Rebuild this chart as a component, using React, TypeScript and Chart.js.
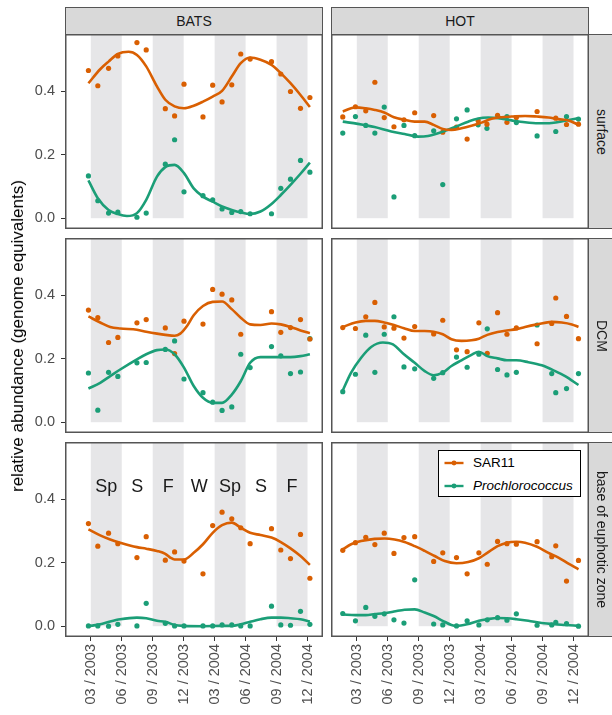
import React, { useEffect, useRef } from 'react';
import { Chart, registerables } from 'chart.js';

Chart.register(...registerables);

const FONT = "'Liberation Sans', Arial, Helvetica, sans-serif";
const ORANGE = '#D95F02';
const GREEN = '#1B9E77';
const BAND_COLOR = '#E6E6E8';
const STRIP_FILL = '#D9D9D9';
const FRAME = '#555555';

// ---- axes / annotations (x = months since Jan 2003; 2 = 03/2003) ----
const stations = ['BATS', 'HOT'];
const depths = ['surface', 'DCM', 'base of euphotic zone'];
const seriesNames = ['SAR11', 'Prochlorococcus'];
const xTickMonths = [2, 5, 8, 11, 14, 17, 20, 23];
const xTickLabels = ['03 / 2003', '06 / 2003', '09 / 2003', '12 / 2003', '03 / 2004', '06 / 2004', '09 / 2004', '12 / 2004'];
const yTickValues = [0, 0.2, 0.4];
const bandStart = [2, 8, 14, 20];
const bandEnd = [5, 11, 17, 23];
const seasonLabels = ['Sp', 'S', 'F', 'W', 'Sp', 'S', 'F'];
const seasonMonths = [3.5, 6.5, 9.5, 12.5, 15.5, 18.5, 21.5];
const SEASON_Y = 0.423;
const X_MIN = -0.5;
const X_MAX = 24.5;
const Y_MIN = -0.034;
const Y_MAX = 0.58;

// ---- sampling dates ----
const batsDates = [1.77, 2.68, 3.72, 4.62, 6.47, 7.37, 9.22, 10.12, 11.03, 12.87, 13.81, 14.72, 15.66, 16.53, 17.44, 19.51, 20.41, 21.35, 22.32, 23.23];
const batsDcmSarDates = [1.77, 2.68, 3.72, 4.62, 6.47, 7.37, 9.22, 10.12, 11.03, 12.87, 13.81, 14.72, 15.66, 16.53, 19.51, 20.41, 21.35, 22.32, 23.23];
const hotSurfSarDates = [0.64, 1.87, 2.87, 3.75, 4.66, 5.6, 6.57, 7.61, 9.45, 10.33, 11.66, 12.69, 13.76, 14.61, 15.64, 16.55, 17.46, 19.47, 21.28, 22.32, 23.48];
const hotSurfProDates = [0.64, 1.87, 2.87, 3.75, 4.66, 5.6, 6.57, 7.61, 9.45, 10.33, 11.66, 12.69, 13.76, 14.61, 16.55, 17.46, 19.47, 21.28, 22.32, 23.48];
const hotDates = [0.64, 1.87, 2.87, 3.75, 4.66, 5.6, 6.57, 7.61, 9.45, 10.33, 11.66, 12.69, 13.83, 14.64, 15.64, 16.55, 17.46, 19.47, 20.89, 21.28, 22.32, 23.48];

// ---- BATS surface ----
const batsSurfSar = [0.465, 0.417, 0.472, 0.511, 0.553, 0.53, 0.345, 0.322, 0.422, 0.319, 0.419, 0.366, 0.42, 0.517, 0.501, 0.493, 0.454, 0.399, 0.346, 0.38];
const batsSurfPro = [0.133, 0.055, 0.016, 0.019, 0.003, 0.016, 0.17, 0.247, 0.083, 0.071, 0.058, 0.029, 0.018, 0.021, 0.014, 0.014, 0.094, 0.123, 0.182, 0.145];
const batsSurfSarFitX = [1.77, 2.91, 3.72, 4.62, 5.66, 6.47, 7.37, 8.41, 9.22, 10.12, 11.03, 11.97, 12.87, 13.81, 14.72, 15.66, 16.53, 17.44, 18.44, 19.51, 20.41, 21.35, 22.32, 23.23];
const batsSurfSarFitY = [0.425, 0.469, 0.493, 0.517, 0.524, 0.514, 0.478, 0.415, 0.373, 0.352, 0.346, 0.354, 0.367, 0.383, 0.401, 0.446, 0.488, 0.506, 0.499, 0.483, 0.457, 0.425, 0.388, 0.35];
const batsSurfProFitX = [1.77, 2.68, 3.72, 4.62, 5.5, 6.47, 7.37, 8.41, 9.22, 10.12, 11.03, 11.97, 12.87, 13.81, 14.72, 15.66, 16.53, 17.44, 18.44, 19.51, 20.41, 21.35, 22.32, 23.23];
const batsSurfProFitY = [0.119, 0.063, 0.026, 0.013, 0.007, 0.016, 0.058, 0.131, 0.161, 0.168, 0.142, 0.094, 0.068, 0.052, 0.037, 0.026, 0.018, 0.013, 0.021, 0.045, 0.073, 0.105, 0.14, 0.175];

// ---- HOT surface ----
const hotSurfSar = [0.319, 0.351, 0.338, 0.428, 0.317, 0.288, 0.31, 0.332, 0.323, 0.271, 0.287, 0.249, 0.307, 0.296, 0.324, 0.302, 0.317, 0.336, 0.315, 0.295, 0.296];
const hotSurfPro = [0.268, 0.32, 0.292, 0.268, 0.35, 0.067, 0.292, 0.26, 0.275, 0.106, 0.313, 0.341, 0.294, 0.283, 0.32, 0.301, 0.259, 0.273, 0.32, 0.312];
const hotSurfSarFitX = [0.64, 1.87, 2.87, 3.75, 4.66, 5.6, 6.57, 7.61, 8.58, 9.45, 10.33, 11.17, 12.14, 13.11, 14.09, 15.06, 16.03, 17.0, 18.3, 19.47, 20.57, 21.54, 22.51, 23.48];
const hotSurfSarFitY = [0.336, 0.349, 0.346, 0.341, 0.333, 0.318, 0.31, 0.304, 0.304, 0.294, 0.281, 0.278, 0.283, 0.291, 0.301, 0.313, 0.318, 0.32, 0.322, 0.32, 0.317, 0.312, 0.308, 0.294];
const hotSurfProFitX = [0.64, 2.1, 3.72, 5.34, 6.63, 7.93, 8.9, 10.2, 11.66, 12.79, 13.76, 14.73, 15.71, 17.0, 18.3, 19.6, 20.89, 22.19, 23.48];
const hotSurfProFitY = [0.304, 0.297, 0.287, 0.273, 0.265, 0.257, 0.259, 0.271, 0.289, 0.304, 0.314, 0.317, 0.315, 0.308, 0.302, 0.299, 0.3, 0.307, 0.315];

// ---- BATS DCM ----
const batsDcmSar = [0.353, 0.329, 0.251, 0.267, 0.313, 0.323, 0.297, 0.216, 0.318, 0.309, 0.418, 0.403, 0.385, 0.277, 0.348, 0.283, 0.298, 0.323, 0.262];
const batsDcmPro = [0.155, 0.038, 0.157, 0.144, 0.187, 0.188, 0.229, 0.256, 0.136, 0.093, 0.063, 0.037, 0.048, 0.214, 0.172, 0.238, 0.209, 0.153, 0.158, 0.263];
const batsDcmSarFitX = [1.77, 2.91, 3.88, 4.85, 6.47, 7.37, 8.41, 9.22, 10.12, 10.67, 11.32, 11.97, 12.87, 13.81, 14.72, 15.66, 16.53, 17.44, 18.44, 19.51, 20.41, 21.35, 22.32, 23.23];
const batsDcmSarFitY = [0.333, 0.314, 0.3, 0.295, 0.291, 0.285, 0.279, 0.275, 0.272, 0.279, 0.303, 0.337, 0.366, 0.379, 0.38, 0.356, 0.329, 0.308, 0.306, 0.311, 0.308, 0.3, 0.289, 0.28];
const batsDcmProFitX = [1.77, 2.91, 3.88, 4.85, 6.47, 7.37, 8.41, 9.22, 10.12, 11.03, 11.97, 12.87, 13.81, 14.72, 15.66, 16.53, 17.44, 18.44, 19.51, 20.41, 21.35, 22.32, 23.23];
const batsDcmProFitY = [0.106, 0.124, 0.145, 0.166, 0.198, 0.214, 0.227, 0.229, 0.214, 0.172, 0.114, 0.077, 0.061, 0.061, 0.087, 0.129, 0.187, 0.205, 0.205, 0.205, 0.205, 0.208, 0.214];

// ---- HOT DCM ----
const hotDcmSar = [0.298, 0.295, 0.332, 0.377, 0.3, 0.296, 0.265, 0.301, 0.278, 0.321, 0.228, 0.222, 0.313, 0.217, 0.345, 0.277, 0.297, 0.247, 0.311, 0.391, 0.333, 0.263];
const hotDcmPro = [0.096, 0.151, 0.274, 0.157, 0.277, 0.332, 0.174, 0.168, 0.138, 0.156, 0.205, 0.173, 0.214, 0.294, 0.166, 0.149, 0.157, 0.306, 0.153, 0.093, 0.106, 0.153];
const hotDcmSarFitX = [0.64, 1.87, 2.87, 3.75, 4.66, 5.6, 6.57, 7.61, 8.58, 9.45, 10.33, 11.17, 12.14, 13.11, 13.83, 14.64, 15.64, 16.55, 17.46, 18.3, 19.47, 20.89, 21.86, 22.84, 23.48];
const hotDcmSarFitY = [0.3, 0.314, 0.319, 0.319, 0.314, 0.306, 0.296, 0.287, 0.287, 0.285, 0.277, 0.261, 0.256, 0.258, 0.263, 0.275, 0.284, 0.289, 0.293, 0.3, 0.308, 0.316, 0.314, 0.308, 0.3];
const hotDcmProFitX = [0.64, 1.45, 2.42, 3.39, 4.53, 5.5, 6.57, 7.61, 8.58, 9.45, 10.33, 11.17, 12.14, 13.11, 13.83, 14.64, 15.64, 16.55, 17.46, 18.62, 19.92, 21.22, 22.19, 23.48];
const hotDcmProFitY = [0.1, 0.156, 0.203, 0.237, 0.251, 0.245, 0.214, 0.187, 0.161, 0.148, 0.156, 0.177, 0.195, 0.212, 0.222, 0.208, 0.201, 0.195, 0.195, 0.189, 0.179, 0.161, 0.145, 0.117];

// ---- BATS base of euphotic zone ----
const batsBaseSar = [0.323, 0.252, 0.293, 0.26, 0.216, 0.282, 0.208, 0.234, 0.205, 0.165, 0.317, 0.359, 0.338, 0.31, 0.26, 0.307, 0.24, 0.213, 0.289, 0.151];
const batsBasePro = [0.001, 0.001, 0.0, 0.006, 0.001, 0.072, 0.009, 0.001, 0.001, 0.001, 0.001, 0.004, 0.004, 0.001, 0.001, 0.063, 0.004, 0.003, 0.047, 0.006];
const batsBaseSarFitX = [1.77, 2.91, 3.88, 4.85, 6.47, 7.37, 8.41, 9.22, 9.7, 10.12, 11.03, 11.97, 12.87, 13.81, 14.72, 15.66, 16.53, 17.44, 18.44, 19.51, 20.41, 21.35, 22.32, 23.23];
const batsBaseSarFitY = [0.305, 0.286, 0.273, 0.263, 0.249, 0.244, 0.237, 0.228, 0.216, 0.21, 0.21, 0.231, 0.258, 0.294, 0.318, 0.326, 0.31, 0.294, 0.287, 0.279, 0.265, 0.245, 0.221, 0.193];
const batsBaseProFitX = [1.77, 2.91, 3.88, 4.85, 6.47, 7.37, 8.41, 9.22, 10.12, 11.03, 12.87, 14.72, 15.66, 16.53, 17.44, 18.44, 19.51, 20.41, 21.35, 22.32, 23.23];
const batsBaseProFitY = [0.0, 0.006, 0.015, 0.022, 0.027, 0.025, 0.017, 0.014, 0.004, 0.001, 0.0, 0.001, 0.001, 0.006, 0.014, 0.022, 0.027, 0.027, 0.025, 0.022, 0.015];

// ---- HOT base of euphotic zone ----
const hotBaseSar = [0.239, 0.263, 0.28, 0.257, 0.293, 0.229, 0.279, 0.282, 0.204, 0.231, 0.216, 0.165, 0.231, 0.195, 0.267, 0.26, 0.258, 0.266, 0.219, 0.253, 0.142, 0.207];
const hotBasePro = [0.04, 0.017, 0.059, 0.031, 0.039, 0.02, 0.01, 0.146, 0.007, 0.004, 0.001, 0.017, 0.004, 0.02, 0.027, 0.019, 0.039, 0.003, 0.004, 0.012, 0.008, 0.0];
const hotBaseSarFitX = [0.64, 1.45, 2.42, 3.72, 4.69, 5.66, 6.63, 7.61, 8.58, 9.55, 10.52, 11.66, 12.79, 13.83, 14.64, 15.64, 16.55, 17.46, 18.3, 19.47, 20.57, 21.54, 22.51, 23.48];
const hotBaseSarFitY = [0.242, 0.258, 0.268, 0.275, 0.276, 0.273, 0.265, 0.252, 0.237, 0.221, 0.205, 0.198, 0.202, 0.214, 0.231, 0.252, 0.263, 0.266, 0.263, 0.25, 0.231, 0.216, 0.197, 0.179];
const hotBaseProFitX = [0.64, 1.87, 2.87, 3.75, 4.66, 5.6, 6.63, 7.61, 8.58, 9.45, 10.33, 11.17, 11.66, 12.69, 13.83, 14.64, 15.64, 16.55, 17.46, 18.62, 19.92, 21.22, 22.19, 23.48];
const hotBaseProFitY = [0.037, 0.035, 0.035, 0.038, 0.041, 0.046, 0.052, 0.053, 0.043, 0.032, 0.017, 0.004, 0.001, 0.006, 0.017, 0.022, 0.026, 0.025, 0.022, 0.017, 0.01, 0.006, 0.004, 0.001];

type PanelData = {
  col: number; row: number;
  sarX: number[]; sarY: number[]; proX: number[]; proY: number[];
  sarFitX: number[]; sarFitY: number[]; proFitX: number[]; proFitY: number[];
};

const panels: PanelData[] = [
  { col: 0, row: 0, sarX: batsDates, sarY: batsSurfSar, proX: batsDates, proY: batsSurfPro, sarFitX: batsSurfSarFitX, sarFitY: batsSurfSarFitY, proFitX: batsSurfProFitX, proFitY: batsSurfProFitY },
  { col: 1, row: 0, sarX: hotSurfSarDates, sarY: hotSurfSar, proX: hotSurfProDates, proY: hotSurfPro, sarFitX: hotSurfSarFitX, sarFitY: hotSurfSarFitY, proFitX: hotSurfProFitX, proFitY: hotSurfProFitY },
  { col: 0, row: 1, sarX: batsDcmSarDates, sarY: batsDcmSar, proX: batsDates, proY: batsDcmPro, sarFitX: batsDcmSarFitX, sarFitY: batsDcmSarFitY, proFitX: batsDcmProFitX, proFitY: batsDcmProFitY },
  { col: 1, row: 1, sarX: hotDates, sarY: hotDcmSar, proX: hotDates, proY: hotDcmPro, sarFitX: hotDcmSarFitX, sarFitY: hotDcmSarFitY, proFitX: hotDcmProFitX, proFitY: hotDcmProFitY },
  { col: 0, row: 2, sarX: batsDates, sarY: batsBaseSar, proX: batsDates, proY: batsBasePro, sarFitX: batsBaseSarFitX, sarFitY: batsBaseSarFitY, proFitX: batsBaseProFitX, proFitY: batsBaseProFitY },
  { col: 1, row: 2, sarX: hotDates, sarY: hotBaseSar, proX: hotDates, proY: hotBasePro, sarFitX: hotBaseSarFitX, sarFitY: hotBaseSarFitY, proFitX: hotBaseProFitX, proFitY: hotBaseProFitY },
];

// ---- layout ----
const PANEL_LEFT = [65, 331];
const PANEL_W = 258;
const PANEL_TOP = [34, 238, 442];
const PANEL_H = 195;
const Y_AXIS_W = 40;
const X_AXIS_H = 78;
const STRIP = 27;
const TICK_FONT = 14.5;

const zip = (xs: number[], ys: number[]) => xs.map((x, i) => ({ x, y: ys[i] }));

function makeDeco(withSeasons: boolean) {
  return {
    id: 'panelDeco',
    beforeDatasetsDraw(chart: any) {
      const { ctx, chartArea: a, scales } = chart;
      const x = scales.x, y = scales.y;
      ctx.save();
      ctx.fillStyle = BAND_COLOR;
      const y0 = y.getPixelForValue(0);
      for (let i = 0; i < bandStart.length; i++) {
        const x1 = x.getPixelForValue(bandStart[i]);
        const x2 = x.getPixelForValue(bandEnd[i]);
        ctx.fillRect(x1, a.top, x2 - x1, y0 - a.top);
      }
      if (withSeasons) {
        ctx.fillStyle = '#1a1a1a';
        ctx.font = `18px ${FONT}`;
        ctx.textAlign = 'center';
        ctx.textBaseline = 'alphabetic';
        const sy = y.getPixelForValue(SEASON_Y);
        seasonLabels.forEach((s, i) => ctx.fillText(s, x.getPixelForValue(seasonMonths[i]), sy));
      }
      ctx.restore();
    },
    afterDraw(chart: any) {
      const { ctx, chartArea: a } = chart;
      ctx.save();
      ctx.strokeStyle = FRAME;
      ctx.lineWidth = 1.5;
      ctx.strokeRect(a.left + 0.75, a.top + 0.75, a.right - a.left - 1.5, a.bottom - a.top - 1.5);
      ctx.restore();
    },
  };
}

function PanelChart({ p }: { p: PanelData }) {
  const ref = useRef<HTMLCanvasElement | null>(null);
  const showY = p.col === 0;
  const showX = p.row === 2;
  const left = PANEL_LEFT[p.col] - (showY ? Y_AXIS_W : 0);
  const top = PANEL_TOP[p.row];
  const width = PANEL_W + (showY ? Y_AXIS_W : 0);
  const height = PANEL_H + (showX ? X_AXIS_H : 0);

  useEffect(() => {
    if (!ref.current) return;
    const lineDs = (pts: { x: number; y: number }[], color: string) => ({
      data: pts, showLine: true, borderColor: color, backgroundColor: color, borderWidth: 2.6,
      pointRadius: 0, cubicInterpolationMode: 'monotone', fill: false,
    });
    const pointDs = (pts: { x: number; y: number }[], color: string) => ({
      data: pts, showLine: false, backgroundColor: color, borderColor: color, borderWidth: 0, pointRadius: 2.6,
    });
    const chart = new Chart(ref.current, {
      type: 'scatter',
      data: {
        datasets: [
          lineDs(zip(p.sarFitX, p.sarFitY), ORANGE),
          lineDs(zip(p.proFitX, p.proFitY), GREEN),
          pointDs(zip(p.sarX, p.sarY), ORANGE),
          pointDs(zip(p.proX, p.proY), GREEN),
        ] as any,
      },
      options: {
        animation: false,
        responsive: false,
        maintainAspectRatio: false,
        devicePixelRatio: 1,
        layout: { padding: 0, autoPadding: false },
        plugins: { legend: { display: false }, tooltip: { enabled: false } },
        events: [],
        scales: {
          x: {
            type: 'linear', min: X_MIN, max: X_MAX, display: showX,
            afterBuildTicks: (s: any) => { s.ticks = xTickMonths.map((v) => ({ value: v })); },
            afterFit: (s: any) => { s.height = showX ? X_AXIS_H : 0; s.paddingLeft = 0; s.paddingRight = 0; s.paddingTop = 0; s.paddingBottom = 0; },
            grid: { drawOnChartArea: false, drawTicks: true, tickLength: 4, color: '#333333', lineWidth: 1 },
            border: { display: false },
            ticks: {
              autoSkip: false, minRotation: 90, maxRotation: 90, padding: 3,
              font: { family: FONT, size: TICK_FONT }, color: '#4D4D4D',
              callback: (_v: any, i: number) => xTickLabels[i],
            },
          },
          y: {
            type: 'linear', min: Y_MIN, max: Y_MAX, display: showY,
            afterBuildTicks: (s: any) => { s.ticks = yTickValues.map((v) => ({ value: v })); },
            afterFit: (s: any) => { s.width = showY ? Y_AXIS_W : 0; s.paddingTop = 0; s.paddingBottom = 0; s.paddingLeft = 0; s.paddingRight = 0; },
            grid: { drawOnChartArea: false, drawTicks: true, tickLength: 4, color: '#333333', lineWidth: 1 },
            border: { display: false },
            ticks: {
              padding: 6, font: { family: FONT, size: TICK_FONT }, color: '#4D4D4D',
              callback: (v: any) => Number(v).toFixed(1),
            },
          },
        },
      } as any,
      plugins: [makeDeco(p.col === 0 && p.row === 2)],
    });
    return () => chart.destroy();
  }, []);

  return (
    <canvas
      ref={ref}
      width={width}
      height={height}
      style={{ position: 'absolute', left, top, width, height, display: 'block' }}
    />
  );
}

function LegendKey({ color }: { color: string }) {
  return (
    <svg width={20} height={10} style={{ position: 'absolute', left: 5, top: -5 }}>
      <line x1={0.5} y1={5} x2={19.5} y2={5} stroke={color} strokeWidth={2.4} />
      <circle cx={10} cy={5} r={2.4} fill={color} />
    </svg>
  );
}

export default function App() {
  const stripBase: React.CSSProperties = {
    position: 'absolute', background: STRIP_FILL, border: `1.5px solid ${FRAME}`, boxSizing: 'border-box',
    display: 'flex', alignItems: 'center', justifyContent: 'center', fontFamily: FONT, fontSize: 14, color: '#1A1A1A',
  };
  return (
    <div style={{ position: 'absolute', left: 0, top: 0, width: 612, height: 715, overflow: 'hidden', background: '#fff' }}>
      {panels.map((p, i) => <PanelChart key={i} p={p} />)}
      {stations.map((s, c) => (
        <div key={s} style={{ ...stripBase, left: PANEL_LEFT[c], top: PANEL_TOP[0] - STRIP, width: PANEL_W, height: STRIP + 1 }}>{s}</div>
      ))}
      {depths.map((d, r) => (
        <div key={d} style={{ ...stripBase, left: PANEL_LEFT[1] + PANEL_W - 1, top: PANEL_TOP[r], width: STRIP + 1, height: PANEL_H }}>
          <span style={{ writingMode: 'vertical-rl', whiteSpace: 'nowrap' }}>{d}</span>
        </div>
      ))}
      <div style={{
        position: 'absolute', left: 17.5, top: (PANEL_TOP[0] + PANEL_TOP[2] + PANEL_H) / 2,
        transform: 'translate(-50%, -50%) rotate(-90deg)', whiteSpace: 'nowrap',
        fontFamily: FONT, fontSize: 17, color: '#000',
      }}>relative abundance (genome equivalents)</div>
      <div style={{
        position: 'absolute', left: 438, top: 450, width: 143, height: 47, border: '1px solid #000',
        background: '#fff', boxSizing: 'border-box', fontFamily: FONT, fontSize: 13.5, color: '#000',
      }}>
        {seriesNames.map((n, i) => (
          <div key={n} style={{ position: 'absolute', left: 0, top: 12 + i * 22.5, width: '100%' }}>
            <LegendKey color={i === 0 ? ORANGE : GREEN} />
            <span style={{ position: 'absolute', left: 34, top: -8, lineHeight: '16px', fontStyle: i === 1 ? 'italic' : 'normal' }}>{n}</span>
          </div>
        ))}
      </div>
    </div>
  );
}
